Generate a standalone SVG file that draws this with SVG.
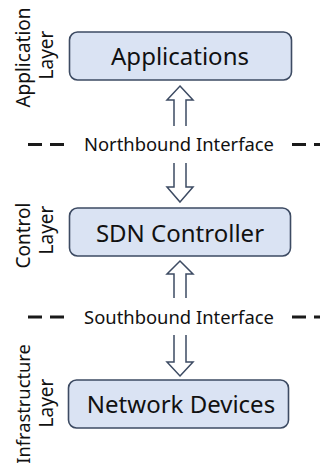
<svg xmlns="http://www.w3.org/2000/svg" width="320" height="465" viewBox="0 0 320 465">
<style>
.box{fill:#dae3f3;stroke:#3d4b63;stroke-width:1.6}
.arrow{fill:#ffffff;stroke:#3d4b63;stroke-width:1.5;stroke-linejoin:miter}
.dash{stroke:#1a1a1a;stroke-width:3;stroke-dasharray:14 8;fill:none}
.lbl{font-family:"Noto Sans","Open Sans",sans-serif;fill:#111111;text-anchor:middle}
.big{font-size:24px}
.side{font-size:19px}
.ifc{font-size:18.4px}
.bg{fill:#ffffff}
</style>
<rect width="320" height="465" fill="#ffffff"/>
<g id="connectors">
  <polygon class="arrow" points="180,86 193,100 186,100 186,130 174,130 174,100 167,100"/>
  <polygon class="arrow" points="180,202 193,187 186,187 186,160 174,160 174,187 167,187"/>
  <polygon class="arrow" points="180,261 193,274 186,274 186,302 174,302 174,274 167,274"/>
  <polygon class="arrow" points="180,376 193,362 186,362 186,331 174,331 174,362 167,362"/>
  <line class="dash" x1="28" y1="144.5" x2="64" y2="144.5"/>
  <line class="dash" x1="292" y1="144.5" x2="330" y2="144.5"/>
  <line class="dash" x1="28" y1="317" x2="64" y2="317"/>
  <line class="dash" x1="292" y1="317" x2="330" y2="317"/>
</g>
<g id="northbound">
  <rect class="bg" x="73" y="126" width="215" height="37"/>
  <text class="lbl ifc" x="179" y="151">Northbound Interface</text>
</g>
<g id="southbound">
  <rect class="bg" x="73" y="298" width="215" height="37"/>
  <text class="lbl ifc" x="179" y="323.5">Southbound Interface</text>
</g>
<g id="applications">
  <rect class="box" x="69.5" y="32" width="222" height="48" rx="8"/>
  <text class="lbl big" x="180" y="65">Applications</text>
</g>
<g id="sdn-controller">
  <rect class="box" x="69.5" y="208" width="221" height="48" rx="8"/>
  <text class="lbl big" x="180" y="241.5">SDN Controller</text>
</g>
<g id="network-devices">
  <rect class="box" x="68.5" y="380" width="220" height="48" rx="8"/>
  <text class="lbl big" x="181" y="413">Network Devices</text>
</g>
<g id="application-layer">
  <text class="lbl side" transform="translate(30,57.5) rotate(-90)">Application</text>
  <text class="lbl side" transform="translate(53,55) rotate(-90)">Layer</text>
</g>
<g id="control-layer">
  <text class="lbl side" transform="translate(30,235.5) rotate(-90)">Control</text>
  <text class="lbl side" transform="translate(53,230) rotate(-90)">Layer</text>
</g>
<g id="infrastructure-layer">
  <text class="lbl side" style="font-size:18.3px" transform="translate(30,404) rotate(-90)">Infrastructure</text>
  <text class="lbl side" transform="translate(53,403) rotate(-90)">Layer</text>
</g>
</svg>
